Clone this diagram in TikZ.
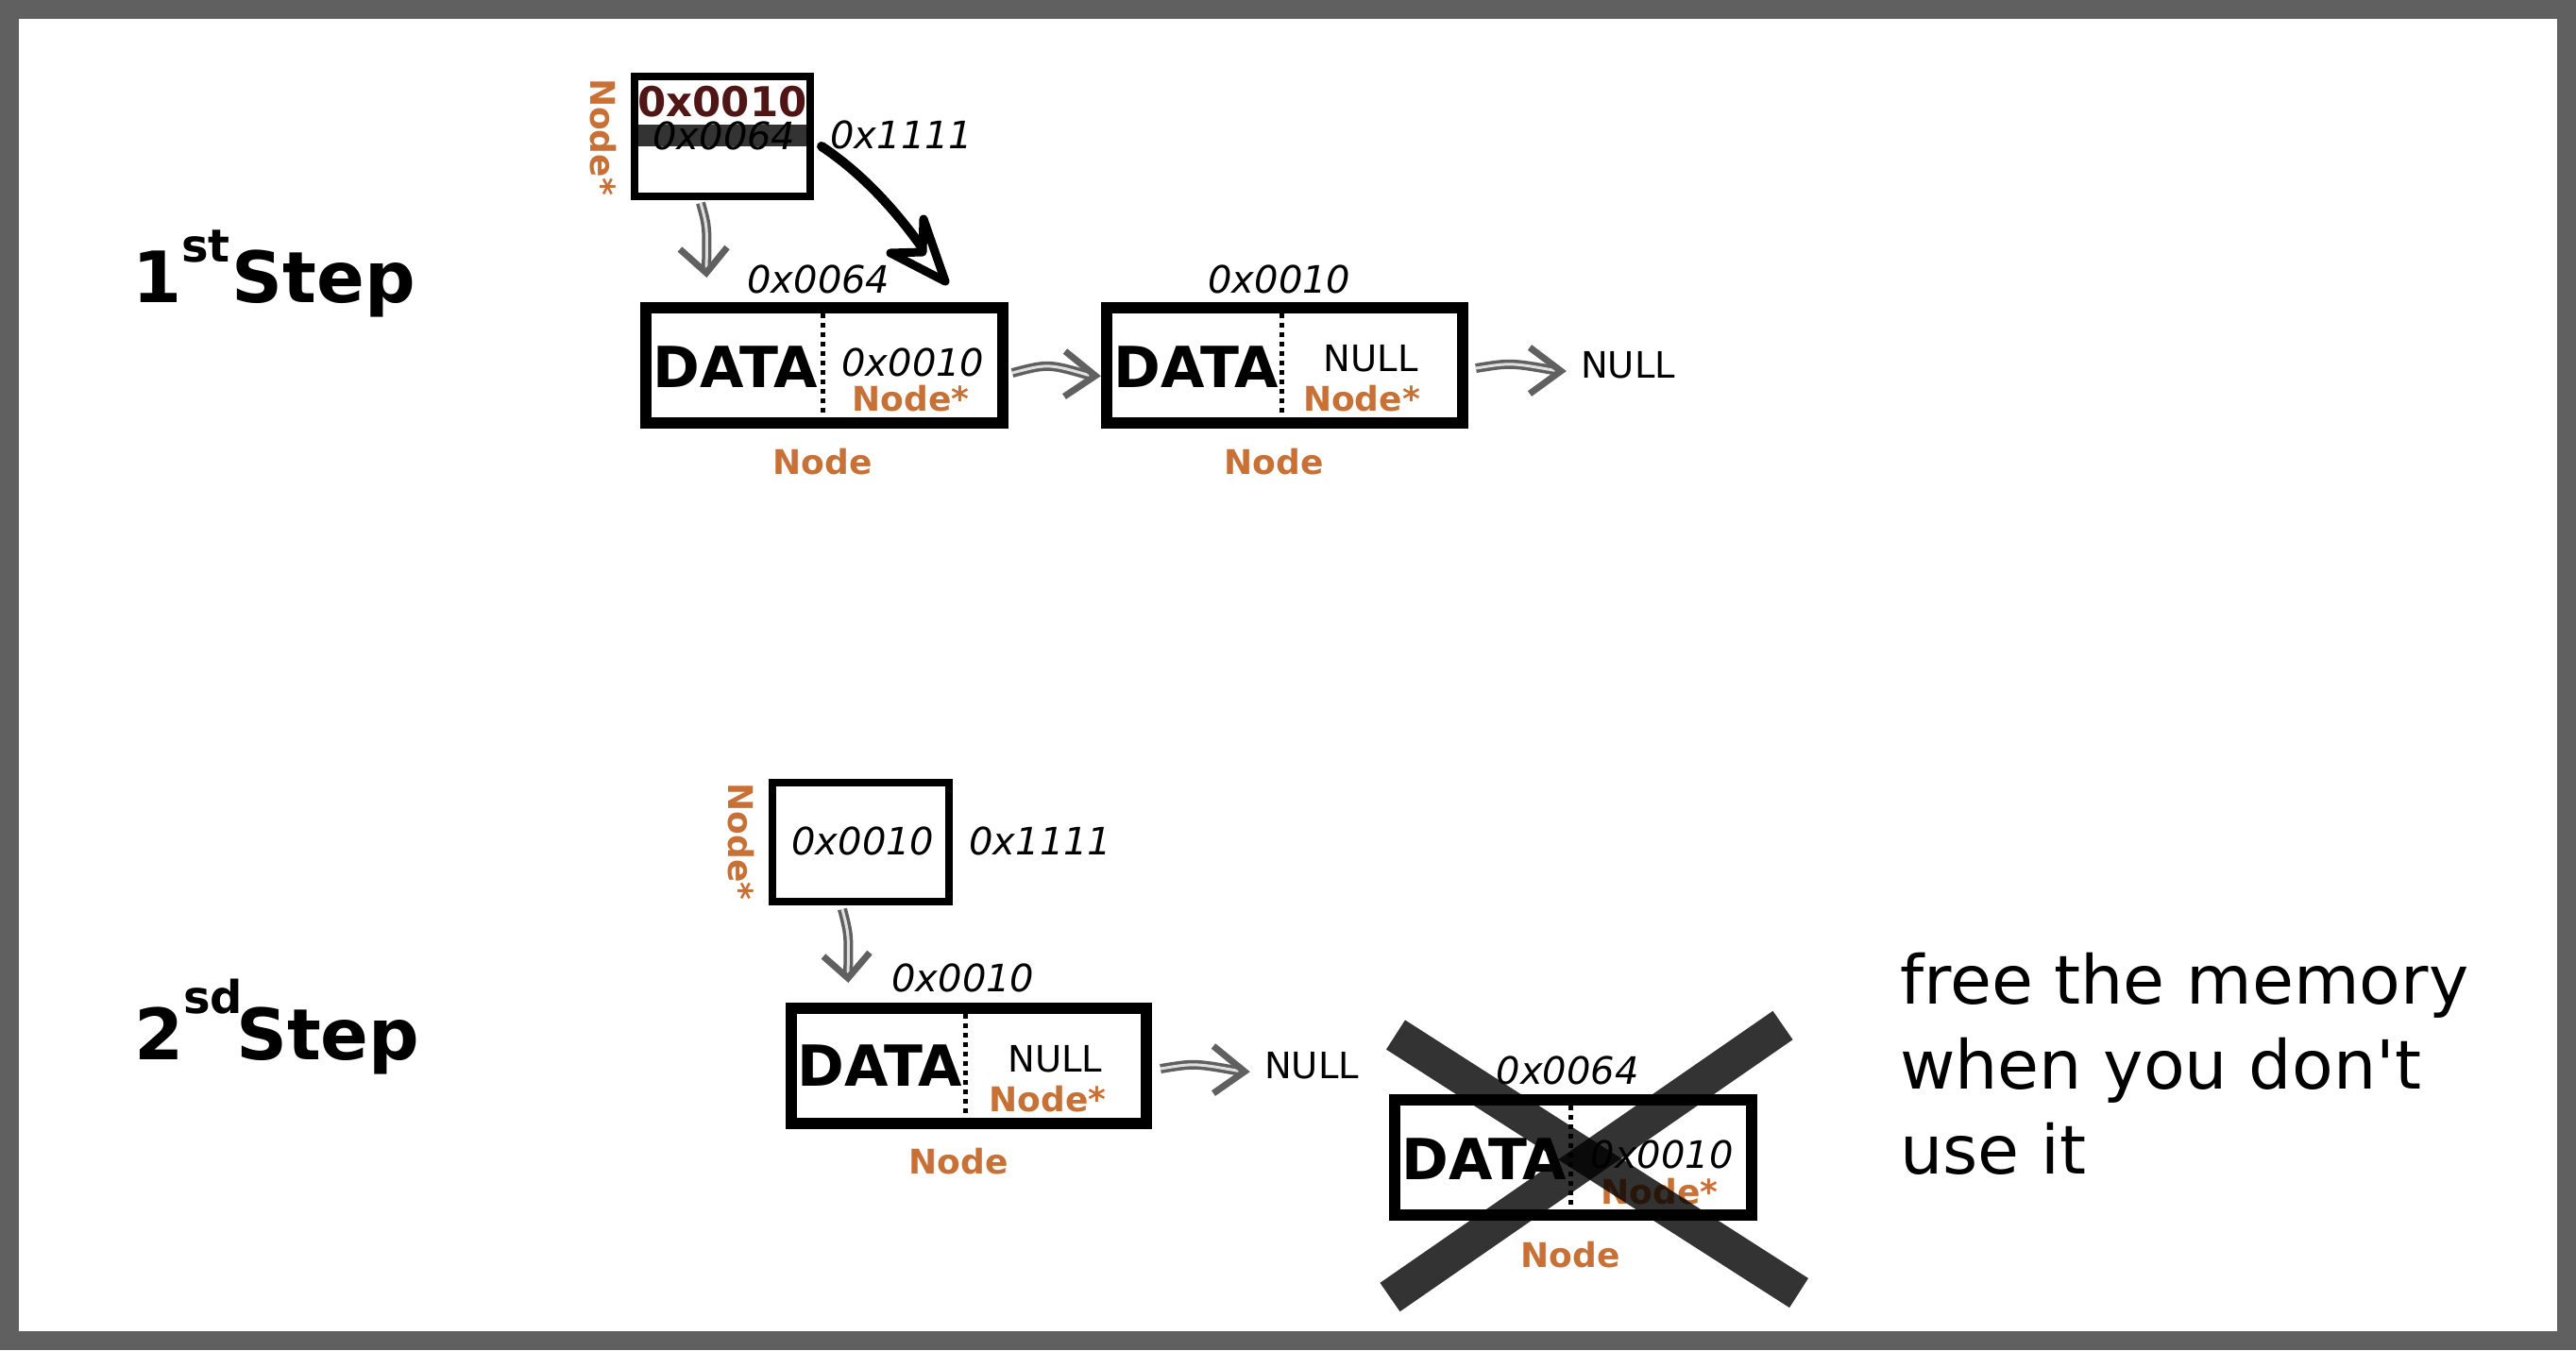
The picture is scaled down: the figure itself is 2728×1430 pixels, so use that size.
\documentclass[tikz,border=0pt]{standalone}
\usepackage{fontspec}
\setmainfont{DejaVu Sans}[Ligatures=TeXOff]
\definecolor{framegray}{HTML}{606060}
\definecolor{orng}{HTML}{C87137}
\definecolor{dred}{HTML}{501616}
\definecolor{bandgray}{HTML}{333333}
\definecolor{garrow}{HTML}{606060}
\begin{document}
\begin{tikzpicture}[x=1pt,y=-1pt,
  every node/.style={inner sep=0pt, outer sep=0pt},
  membox/.style={draw=black, line width=12, fill=white, minimum width=378, minimum height=122},
  ptrbox/.style={draw=black, line width=8, fill=white, minimum width=186, minimum height=127},
  divider/.style={line width=5, dash pattern=on 5 off 5},
  hex/.style={font=\fontsize{40}{40}\selectfont\itshape, anchor=base},
  datat/.style={font=\fontsize{60}{60}\selectfont\bfseries, anchor=base},
  nullt/.style={font=\fontsize{38.5}{38.5}\selectfont, anchor=base},
  tag/.style={font=\fontsize{36}{36}\selectfont\bfseries, text=orng, anchor=base},
  steplab/.style={font=\fontsize{75}{75}\selectfont\bfseries, anchor=base west},
  freet/.style={font=\fontsize{71.5}{71.5}\selectfont, anchor=base west},
  shaft/.style={draw=garrow, line width=3.5, double=gray!25, double distance=3, line cap=butt},
  ghead/.style={draw=garrow, line width=7, miter limit=10},
  cross/.style={draw=black, draw opacity=0.8, line width=37, line cap=butt},
]
\useasboundingbox (0,0) rectangle (2728,1430);
% frame
\fill[framegray] (0,0) rectangle (2728,1430);
\fill[white] (20,20) rectangle (2708,1410);

% step labels
\node[steplab] (s1) at (140,320) {1\raisebox{43pt}{\fontsize{48}{48}\selectfont st}\hspace{2pt}Step};
\node[steplab] (s2) at (142,1122) {2\raisebox{49pt}{\fontsize{48}{48}\selectfont sd}\hspace{-7pt}Step};

% ================= STEP 1 =================
\node[ptrbox] (p1) at (765,144.5) {};
\fill[bandgray] (676,132) rectangle (854,155);
\node[font=\fontsize{43.5}{43.5}\selectfont\bfseries, text=dred, anchor=base] (p1v) at (765,123) {0x0010};
\node[hex] (p1o) at (767,158) {0x0064};
\node[tag, rotate=-90] (p1t) at (625,145) {Node*};
\node[hex] (p1a) at (955,157) {0x1111};

% box 1
\node[membox] (b1) at (873,387) {};
\draw[divider] (871,332) -- (871,442);
\node[hex] (b1a) at (867,310) {0x0064};
\node[datat] (b1d) at (779,410) {DATA};
\node[hex] (b1p) at (967,398) {0x0010};
\node[tag] (b1s) at (964.5,435) {Node*};
\node[tag] (b1n) at (871,502) {Node};

% box 2
\node[membox, minimum width=377] (b2) at (1360.5,387) {};
\draw[divider] (1357,332) -- (1357,442);
\node[hex] (b2a) at (1355,310) {0x0010};
\node[datat] (b2d) at (1267,410) {DATA};
\node[nullt] (b2p) at (1451.5,393) {NULL};
\node[tag] (b2s) at (1442,435) {Node*};
\node[tag] (b2n) at (1349,502) {Node};
\node[nullt] (n1) at (1724,400) {NULL};

% arrows step 1
\coordinate (g1s) at (742,215);
\coordinate (g1e) at (748,286);
\draw[shaft] (g1s) .. controls (749,240) .. (g1e);
\draw[ghead] (720,264) -- (748,289) -- (770,262);

\coordinate (ba0) at (870,155);
\coordinate (ba1) at (977,263);
\draw[line width=10, line cap=round] (ba0) .. controls (915,185) and (950,225) .. (ba1);
\draw[line width=9, line join=round, fill=white] (943,268) -- (977,267) -- (978,232) -- (1001,298) -- cycle;

\coordinate (g2s) at (1072,395);
\coordinate (g2e) at (1155,398);
\draw[shaft] (g2s) .. controls (1110,385) .. (g2e);
\draw[ghead] (1128,372) -- (1160,398) -- (1127,420);

\coordinate (g3s) at (1563,390);
\coordinate (g3e) at (1650,393);
\draw[shaft] (g3s) .. controls (1600,384) .. (g3e);
\draw[ghead] (1620,368) -- (1653,393) -- (1620,417);

% ================= STEP 2 =================
\node[ptrbox, minimum width=187, minimum height=126] (p2) at (911.5,892) {};
\node[hex] (p2v) at (914,905) {0x0010};
\node[tag, rotate=-90] (p2t) at (771,891.5) {Node*};
\node[hex] (p2a) at (1102,905) {0x1111};

% box 3
\node[membox, minimum width=376] (b3) at (1026,1129) {};
\draw[divider] (1022,1074) -- (1022,1184);
\node[hex] (b3a) at (1020,1050) {0x0010};
\node[datat] (b3d) at (932,1150) {DATA};
\node[nullt] (b3p) at (1117.5,1135) {NULL};
\node[tag] (b3s) at (1109.5,1177) {Node*};
\node[tag] (b3n) at (1015,1243) {Node};
\node[nullt] (n2) at (1389,1142) {NULL};

\coordinate (g4s) at (892,963);
\coordinate (g4e) at (898,1033);
\draw[shaft] (g4s) .. controls (899,990) .. (g4e);
\draw[ghead] (872,1013) -- (898,1036) -- (921,1009);

\coordinate (g5s) at (1229,1132);
\coordinate (g5e) at (1315,1135);
\draw[shaft] (g5s) .. controls (1265,1126) .. (g5e);
\draw[ghead] (1285,1108) -- (1318,1135) -- (1285,1158);

% box 4 (freed)
\node[membox] (b4) at (1666,1226) {};
\draw[divider] (1663,1171) -- (1663,1281);
\node[hex] (b4a) at (1660,1148) {0x0064};
\node[datat] (b4d) at (1572,1249) {DATA};
\node[hex] (b4p) at (1760,1237) {0x0010};
\node[tag] (b4s) at (1757.5,1275) {Node*};
\node[tag] (b4n) at (1663,1342) {Node};

\coordinate (x1a) at (1478,1096);
\coordinate (x1b) at (1905,1369.5);
\coordinate (x2a) at (1472,1374);
\coordinate (x2b) at (1888,1086);
\draw[cross] (x1a) -- (x1b);
\draw[cross] (x2a) -- (x2b);

% note
\node[freet] (f1) at (2012,1063) {free the memory};
\node[freet] (f2) at (2012,1153) {when you don't};
\node[freet] (f3) at (2012,1243) {use it};
\end{tikzpicture}
\end{document}
